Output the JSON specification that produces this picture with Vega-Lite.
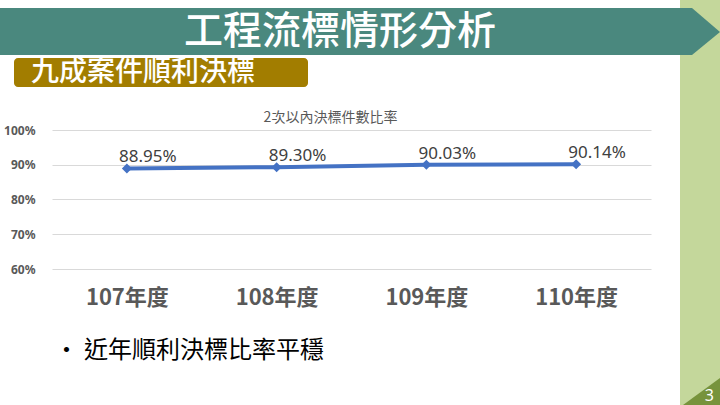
{
  "$schema": "https://vega.github.io/schema/vega-lite/v6.json",
  "padding": 0,
  "spacing": 0,
  "background": "white",
  "config": {"font": "Noto Sans CJK TC", "view": {"stroke": null}},
  "hconcat": [
    {
      "spacing": 24,
      "vconcat": [
        {
          "spacing": 3,
          "vconcat": [
            {
              "width": 1,
              "height": 5,
              "data": {"values": [{}]},
              "mark": {"type": "rect", "opacity": 0},
              "encoding": {}
            },
            {
              "width": 680,
              "height": 47,
              "data": {"values": [{"label": "工程流標情形分析"}]},
              "layer": [
                {"mark": {"type": "rect", "color": "#4A887E"}, "encoding": {}},
                {
                  "mark": {"type": "text", "color": "white", "fontSize": 39, "fontWeight": 500, "baseline": "middle"},
                  "encoding": {"text": {"field": "label"}}
                }
              ]
            },
            {
              "spacing": 0,
              "hconcat": [
                {
                  "width": 14,
                  "height": 29,
                  "data": {"values": [{}]},
                  "mark": {"type": "rect", "opacity": 0},
                  "encoding": {}
                },
                {
                  "width": 294,
                  "height": 29,
                  "data": {"values": [{"label": "九成案件順利決標"}]},
                  "layer": [
                    {"mark": {"type": "rect", "color": "#A27D00", "cornerRadius": 4}, "encoding": {}},
                    {
                      "mark": {"type": "text", "color": "white", "fontSize": 28, "fontWeight": 500, "baseline": "middle", "dx": -18},
                      "encoding": {"text": {"field": "label"}}
                    }
                  ]
                }
              ]
            }
          ]
        },
        {
          "spacing": 0,
          "hconcat": [
            {
              "width": 1,
              "height": 139,
              "data": {"values": [{}]},
              "mark": {"type": "rect", "opacity": 0},
              "encoding": {}
            },
            {
              "width": 599,
              "height": 139,
              "title": {
                "text": "2次以內決標件數比率",
                "fontSize": 14,
                "fontWeight": "normal",
                "color": "#595959",
                "anchor": "middle",
                "offset": -1,
                "dx": -21
              },
              "data": {
                "values": [
                  {"year": "107年度", "rate": 0.8895},
                  {"year": "108年度", "rate": 0.893},
                  {"year": "109年度", "rate": 0.9003},
                  {"year": "110年度", "rate": 0.9014}
                ]
              },
              "encoding": {
                "x": {
                  "field": "year",
                  "type": "ordinal",
                  "sort": null,
                  "scale": {"type": "point", "padding": 0.5},
                  "axis": {
                    "title": "• 近年順利決標比率平穩",
                    "labelAngle": 0,
                    "domain": false,
                    "ticks": false,
                    "labelFontSize": 22,
                    "labelFontWeight": "bold",
                    "labelColor": "#595959",
                    "labelPadding": 18,
                    "titleX": 2,
                    "titleY": 81,
                    "titleAlign": "left",
                    "titleAnchor": "start",
                    "titleBaseline": "middle",
                    "titleFontSize": 24,
                    "titleFontWeight": "normal",
                    "titleColor": "#000000"
                  }
                },
                "y": {
                  "field": "rate",
                  "type": "quantitative",
                  "scale": {"domain": [0.6, 1]},
                  "axis": {
                    "values": [0.6, 0.7, 0.8, 0.9, 1],
                    "format": ".0%",
                    "title": null,
                    "domain": false,
                    "ticks": false,
                    "gridColor": "#D9D9D9",
                    "labelFont": "Noto Sans",
                    "labelFontSize": 12,
                    "labelFontWeight": "bold",
                    "labelColor": "#595959",
                    "labelPadding": 17,
                    "minExtent": 51
                  }
                }
              },
              "layer": [
                {"mark": {"type": "line", "color": "#4472C4", "strokeWidth": 4}, "encoding": {}},
                {"mark": {"type": "point", "shape": "diamond", "filled": true, "size": 100, "color": "#4472C4", "opacity": 1}},
                {
                  "mark": {"type": "text", "font": "Noto Sans", "fontSize": 17, "color": "#404040", "dx": 21, "dy": -6, "baseline": "alphabetic"},
                  "encoding": {"text": {"field": "rate", "format": ".2%"}}
                }
              ]
            }
          ]
        }
      ]
    },
    {
      "width": 40,
      "height": 405,
      "data": {"values": [{"page": "3"}]},
      "resolve": {"scale": {"x": "independent", "y": "independent"}},
      "layer": [
        {"mark": {"type": "rect", "color": "#C4D79B"}, "encoding": {}},
        {
          "mark": {"type": "point", "shape": "M 0 0.2 L 0.3 0.2 L 1 0.8 L 0.3 1.375 L 0 1.375 Z", "size": 6400, "filled": true, "opacity": 1, "color": "#4A887E"},
          "encoding": {
            "x": {"field": "page", "type": "nominal", "axis": null, "scale": {"type": "point", "padding": 0, "align": 0}},
            "y": {"field": "page", "type": "nominal", "axis": null, "scale": {"type": "point", "padding": 0, "align": 0}}
          }
        },
        {
          "mark": {"type": "point", "shape": "M -1 0 L 0 0 L 0 -0.73 Z", "size": 5476, "filled": true, "opacity": 1, "color": "#77933C"},
          "encoding": {
            "x": {"field": "page", "type": "nominal", "axis": null, "scale": {"type": "point", "padding": 0, "align": 1}},
            "y": {"field": "page", "type": "nominal", "axis": null, "scale": {"type": "point", "padding": 0, "align": 1}}
          }
        },
        {
          "mark": {"type": "text", "font": "Noto Sans", "fontSize": 16, "color": "white", "align": "right", "baseline": "alphabetic", "dx": -6, "dy": -4},
          "encoding": {
            "text": {"field": "page"},
            "x": {"field": "page", "type": "nominal", "axis": null, "scale": {"type": "point", "padding": 0, "align": 1}},
            "y": {"field": "page", "type": "nominal", "axis": null, "scale": {"type": "point", "padding": 0, "align": 1}}
          }
        }
      ]
    }
  ]
}
